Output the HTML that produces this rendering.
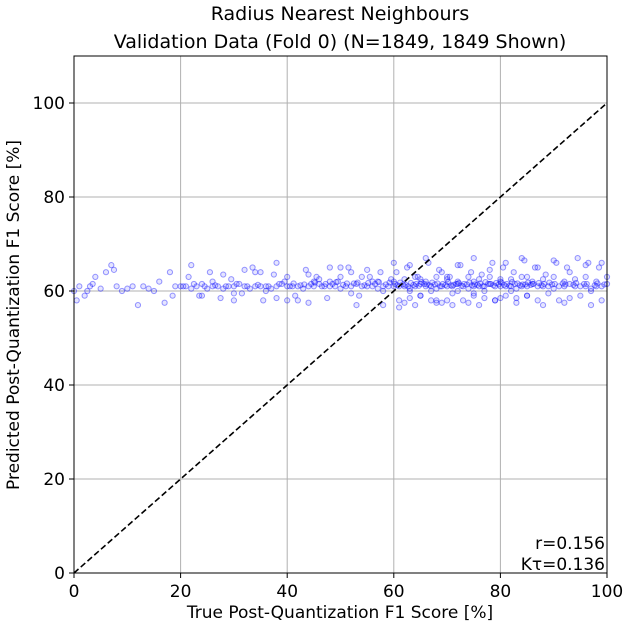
<!DOCTYPE html>
<html><head><meta charset="utf-8"><style>
html,body{margin:0;padding:0;background:#fff;}
svg{display:block;font-family:"DejaVu Sans","Liberation Sans",sans-serif;}
</style></head><body>
<svg id="chart" width="640" height="627" viewBox="0 0 640 627">
<text x="340" y="20" font-size="19" text-anchor="middle">Radius Nearest Neighbours</text>
<text x="340" y="48" font-size="19" text-anchor="middle">Validation Data (Fold 0) (N=1849, 1849 Shown)</text>
<g id="grid"></g>
<g id="pts"></g>
<g id="axes"></g>
<text x="340" y="618" font-size="17" text-anchor="middle">True Post-Quantization F1 Score [%]</text>
<text transform="translate(19,315) rotate(-90)" font-size="17" text-anchor="middle">Predicted Post-Quantization F1 Score [%]</text>
<text x="605" y="549" font-size="17" text-anchor="end">r=0.156</text>
<text x="605" y="570" font-size="17" text-anchor="end">Kτ=0.136</text>
</svg>
<script>
const xTicks=[0,20,40,60,80,100];
const yTicks=[0,20,40,60,80,100];
const xVals=[0,1,2,3,5,6,7,8,10,12,13,15,16,17,18,19,20,0.5,2.5,4,9,11,14,18.5,7.5,3.5,
21,22,23,24,25,26,27,28,29,30,31,32,33,34,35,36,37,38,39,40,41,42,43,44,45,46,47,48,49,50,51,52,53,54,55,56,57,58,59,60,
21.5,23.5,25.5,27.5,29.5,31.5,33.5,35.5,37.5,39.5,41.5,43.5,45.5,47.5,49.5,51.5,53.5,55.5,57.5,59.5,
22,26,30,34,38,42,46,50,54,58,24,28,32,36,40,44,48,52,56,
61,62,63,64,65,66,67,68,69,70,71,72,73,74,75,76,77,78,79,80,81,82,83,84,85,86,87,88,89,90,91,92,93,94,95,96,97,98,99,100,
60.5,62.5,64.5,66.5,68.5,70.5,72.5,74.5,76.5,78.5,80.5,82.5,84.5,86.5,88.5,90.5,92.5,94.5,96.5,98.5,
61,63,65,67,69,71,73,75,77,79,81,83,85,87,89,91,93,95,97,99,
62,64,66,68,70,72,74,76,78,80,82,84,86,88,90,92,94,96,98,100,
60,63,66,69,72,75,78,81,84,87,90,93,96,99,65,70,75,80,85,62,68,74,
45,50,55,60,65,70,75,80,85,35,40,48,52,57,63,67,72,77,82,
30,38,44,53,58,61,64,68,71,76,79,83,88,92,97];
const yVals=[60,61,59,61,60.5,64,65.5,61,60.5,57,61,60,62,57.5,64,61,61,58,60,63,60,61,60.5,59,64.5,61.5,
61,60.5,61,61.5,60.5,61,61,60.5,61,61,61.5,61,60.5,61,61,61,60.5,61,61.5,61,61,61,60.5,61,61,61.5,61,61,61,60.5,61,61,61.5,61,61,61,60.5,61,61,61,
63,59,64,58.5,62.5,59.5,65,58,63.5,62,59,64.5,63,58.5,62,65,59,63,64,62.5,
65.5,62,58,64,66,58,62.5,65,63,60,59,63.5,64.5,60,58,63.5,65,59.5,62,
61,61,60.5,61,61.5,61,61,60.5,61,61,61,61.5,61,60.5,61,61,61,61.5,61,61,61,61,60.5,61,61,61.5,61,61,61,60.5,61,61,61.5,61,61,61,60.5,61,61,61.5,
64,65,63,66,64.5,63,65.5,64,63.5,66,65,64,66.5,65,63.5,66,65,67,66,65,
58,58.5,59,58,57.5,59.5,58,59,58.5,58,59,58.5,59,58,59.5,58,58.5,59,60,58,
62.5,63,62,63,62.5,62,63,62.5,63,62,62.5,63,62,62.5,63,62,62.5,63,62,63,
66,65.5,67,64,65.5,67,64.5,66,67,65,66.5,64,65.5,66,59,58,59.5,58.5,59,57.5,58,57.5,
62,63,64.5,62,62.5,63,62,62.5,63,64,63,62,64,62,60,60,60,60,60,
59.5,58.5,57.5,57,57,56.5,57,57.5,57,57,58,57.5,57,57.5,57];
const bandX=[20.5,22.5,24.5,26.5,28.5,30.5,32.5,34.5,36.5,38.5,40.5,42.5,44.5,46.5,48.5,50.5,52.5,54.5,56.5,58.5,
60.2,61.2,62.2,63.2,64.2,65.2,66.2,67.2,68.2,69.2,70.2,71.2,72.2,73.2,74.2,75.2,76.2,77.2,78.2,79.2,80.2,81.2,82.2,83.2,84.2,85.2,86.2,87.2,88.2,89.2,90.2,92.2,94.2,96.2,98.2,
60.7,61.7,62.7,63.7,64.7,65.7,66.7,67.7,68.7,69.7,70.7,71.7,72.7,73.7,74.7,75.7,76.7,77.7,78.7,79.7,80.7,81.7,82.7,83.7,84.7,85.7,87.7,89.7,91.7,93.7,95.7,97.7,99.5,
45.2,47.2,49.2,51.2,53.2,55.2,57.2,59.2,41.2,43.2];
const bandY=[61,61.5,61,61.2,61,61.5,61,61.3,61,61.5,61,61.2,61.5,61,61.5,61.3,61.6,61.2,61.5,61.4,
61.5,61.8,61.3,61.7,61.5,61.9,61.4,61.8,61.6,61.5,61.9,61.3,61.7,61.5,61.8,61.4,61.6,61.9,61.5,61.7,61.8,61.5,61.9,61.6,61.4,61.8,61.5,61.7,61.5,61.8,61.5,61.4,61.7,61.5,61.6,
61.2,61.4,61,61.3,61.1,61.5,61.2,61.4,61,61.3,61.2,61.5,61.1,61.4,61.2,61.3,61,61.5,61.2,61.4,61.3,61.1,61.5,61.2,61.4,61.3,61.2,61.4,61.6,61.3,61.5,61.2,61.4,
61.8,61.5,61.9,61.6,61.8,61.7,61.9,61.8,61.6,61.4];
const X0=74,X1=607,Y0=573,YT=56;
const sx=v=>X0+(X1-X0)*v/100;
const sy=v=>Y0-(Y0-YT)*v/110;
const NS="http://www.w3.org/2000/svg";
const grid=document.getElementById('grid'),axes=document.getElementById('axes'),pts=document.getElementById('pts');
function mk(tag,at,parent){const e=document.createElementNS(NS,tag);for(const k in at)e.setAttribute(k,at[k]);parent.appendChild(e);return e;}
xTicks.forEach(t=>{
 const l=mk('line',{x1:sx(t),x2:sx(t),y1:YT,y2:Y0,stroke:'#b0b0b0','stroke-width':1},grid);
 
 
 mk('line',{x1:sx(t),x2:sx(t),y1:Y0,y2:Y0+5,stroke:'#000'},axes);
 const tx=mk('text',{x:sx(t),y:Y0+24,'font-size':17,'text-anchor':'middle'},axes);tx.textContent=t;
 
 
});
yTicks.forEach(t=>{
 const l=mk('line',{x1:X0,x2:X1,y1:sy(t),y2:sy(t),stroke:'#b0b0b0','stroke-width':1},grid);
 
 
 mk('line',{x1:X0-5,x2:X0,y1:sy(t),y2:sy(t),stroke:'#000'},axes);
 const tx=mk('text',{x:X0-9,y:sy(t)+6,'font-size':17,'text-anchor':'end'},axes);tx.textContent=t;
 
 
});
function drawPts(xs,ys){
 for(let i=0;i<xs.length;i++){
  const c=mk('circle',{cx:sx(xs[i]),cy:sy(ys[i]),r:2.6,fill:'rgba(0,0,255,0.1)',stroke:'rgba(0,0,255,0.4)','stroke-width':1},pts);
  
  
 }
}
drawPts(xVals,yVals);
drawPts(bandX,bandY);
const d=mk('line',{x1:sx(0),y1:sy(0),x2:sx(100),y2:sy(100),stroke:'#000','stroke-width':1.6,'stroke-dasharray':'6,3'},axes);


const f=mk('rect',{x:X0,y:YT,width:X1-X0,height:Y0-YT,fill:'none',stroke:'#000','stroke-width':1},axes);


</script>
</body></html>
